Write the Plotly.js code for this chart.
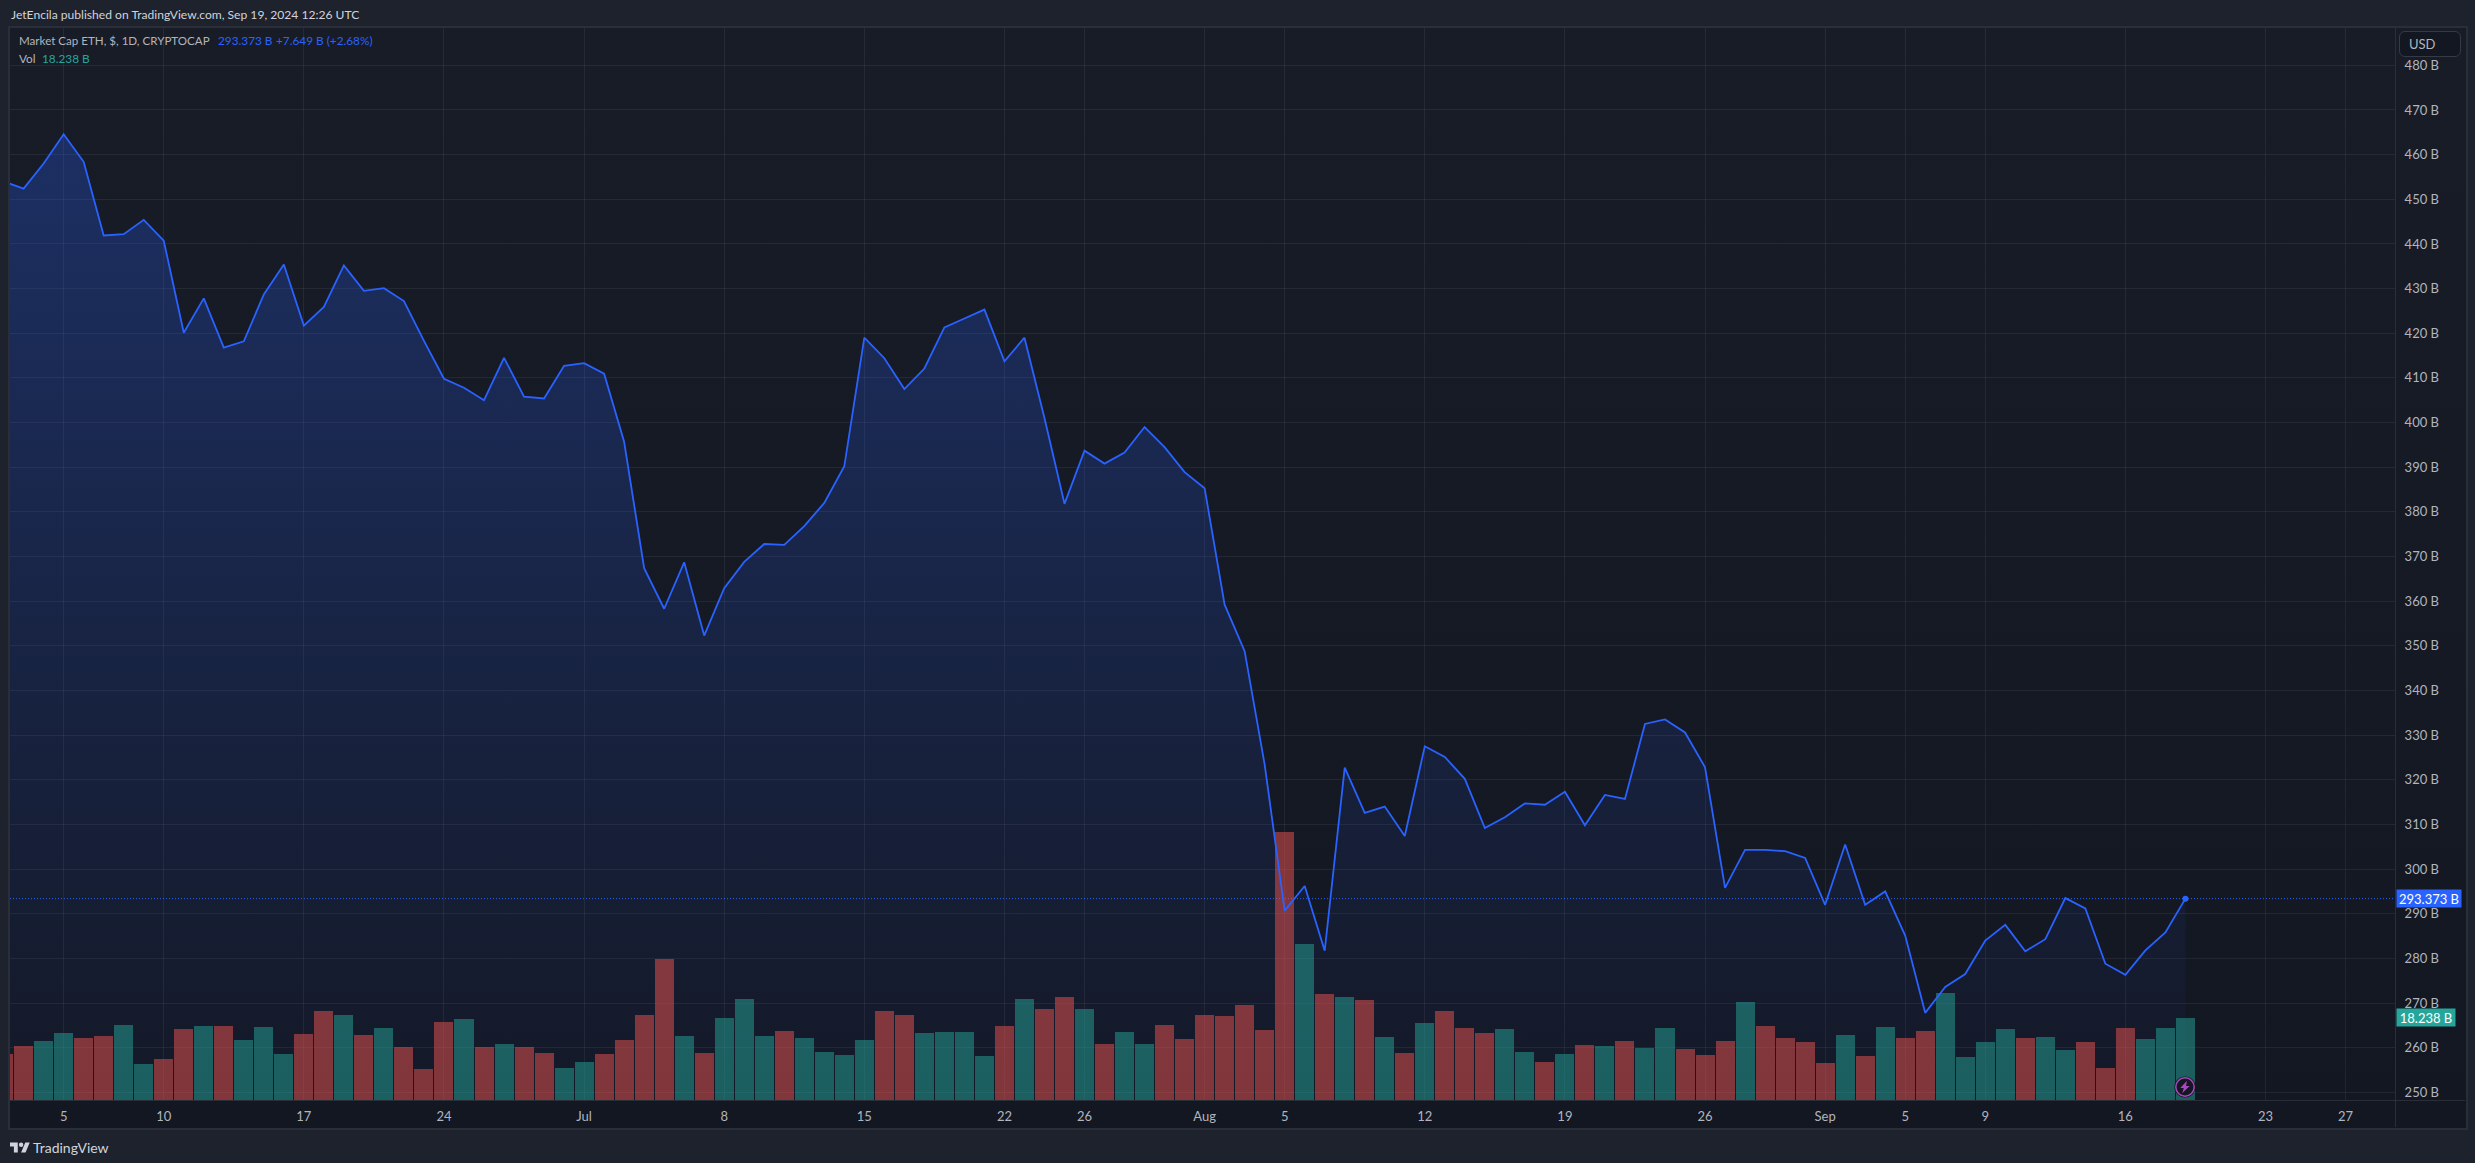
<!DOCTYPE html>
<html>
<head>
<meta charset="utf-8">
<script src="https://cdn.plot.ly/plotly-3.0.1.min.js"></script>
<style>
html,body{margin:0;padding:0;width:2475px;height:1163px;overflow:hidden;background:#1e222d;}
.abs{position:absolute;pointer-events:none;}
#pane{left:8px;top:26px;width:2456px;height:1100px;border:2px solid #2a2e39;background:linear-gradient(#181c27,#131722);}
#vsep{left:2395px;top:27px;width:1px;height:1100px;background:#2a2e39;z-index:3;}
#hsep{left:9px;top:1100px;width:2456px;height:1px;background:#2a2e39;z-index:3;}
#chart{position:absolute;left:0;top:0;width:2475px;height:1163px;z-index:2;}
#usd{left:2399px;top:31px;width:60px;height:24px;border:1px solid #363a45;border-radius:6px;background:#131722;color:#b2b5be;font:13px Lato,sans-serif;line-height:24px;text-indent:9px;z-index:4;}
#brand{left:33px;top:1139px;color:#d1d4dc;font:14px Lato,sans-serif;z-index:4;}
</style>
</head>
<body>
<div id="pane" class="abs"></div>
<div id="chart"></div>
<div id="vsep" class="abs"></div>
<div id="hsep" class="abs"></div>
<div id="usd" class="abs">USD</div>
<svg class="abs" style="left:10px;top:1140px;z-index:4" width="20" height="14" viewBox="0 0 36 24"><path fill="#d1d4dc" d="M14 22H7V11H0V4h14v18zM28 22h-8l7.5-18h8L28 22z"/><circle fill="#d1d4dc" cx="20" cy="8" r="4"/></svg>
<div id="brand" class="abs">TradingView</div>
<svg class="abs" style="left:2174px;top:1076px;z-index:4" width="22" height="22" viewBox="0 0 22 22"><circle cx="11" cy="11" r="10.6" fill="#131722"/><circle cx="11" cy="11" r="9.2" fill="none" stroke="#ab47bc" stroke-width="1.5"/><path fill="#ab47bc" d="M13 4.8 6.2 12h3.6l-1.6 5.2L15.6 10H12z"/></svg>
<script>
const startDay = "2024-06-02";

const price = [
 453.96,452.4,458.0,464.55,458.4,441.9,442.2,445.4,440.75,420.1,427.8,416.8,418.2,428.7,435.4,421.7,425.9,435.2,429.5,430.1,427.2,418.3,409.8,407.8,405.0,414.5,405.8,405.4,412.7,
 413.3,410.95,395.7,367.4,358.3,368.7,352.3,362.9,368.8,372.8,372.6,376.8,382.0,390.2,419.0,414.4,407.5,412.1,421.3,423.3,425.3,413.7,419.0,401.0,381.8,393.7,390.8,393.3,399.0,394.5,388.9,
 385.3,359.2,348.8,323.4,290.7,296.2,281.7,322.7,312.6,314.0,307.4,327.5,325.1,320.2,309.2,311.6,314.7,314.4,317.3,309.8,316.6,315.7,332.5,333.5,330.6,322.8,295.8,304.3,304.3,304.0,302.5,
 292.0,305.5,292.0,295.0,285.1,267.8,273.6,276.5,284.0,287.5,281.6,284.3,293.5,291.2,278.8,276.3,281.8,285.8,293.373
];
const volume = [
 10.2,12.0,13.1,14.9,13.8,14.2,16.7,8.0,9.1,15.8,16.5,16.5,13.3,16.2,10.2,14.7,19.8,18.9,14.5,16.0,11.8,6.9,17.3,18.0,11.8,12.5,11.8,10.5,7.1,
 8.5,10.2,13.3,18.9,31.4,14.2,10.5,18.2,22.5,14.2,15.3,13.8,10.7,10.0,13.3,19.8,18.9,14.9,15.1,15.1,9.8,16.5,22.5,20.2,22.9,20.2,12.5,15.1,12.5,16.7,13.6,
 18.9,18.7,21.1,15.6,59.6,34.7,23.6,22.9,22.2,14.0,10.5,17.1,19.8,16.0,14.9,15.8,10.7,8.5,10.2,12.2,12.0,13.1,11.6,16.0,11.3,10.0,13.1,21.8,16.5,13.8,12.9,
 8.2,14.5,9.8,16.2,13.8,15.3,23.8,9.6,12.9,15.8,13.8,14.0,11.1,12.9,7.1,16.0,13.6,16.0,18.238
];
const direction = (
 "d d u u d d u u d d u d u u u d d u d u d d d u d u d d u " +
 "u d d d d u d u u u d u u u u d d u u u u d u d d u d u u d d " +
 "d d d d d u d u d u d u d d d u u d u d u d u u d d d u d d d " +
 "d u d u d d u u u u d u u d d d u u u").trim().split(" ");

const xTickVals = ["2024-06-05","2024-06-10","2024-06-17","2024-06-24","2024-07-01","2024-07-08","2024-07-15","2024-07-22","2024-07-26","2024-08-01","2024-08-05","2024-08-12","2024-08-19","2024-08-26","2024-09-01","2024-09-05","2024-09-09","2024-09-16","2024-09-23","2024-09-27"];
const xTickText = ["5","10","17","24","Jul","8","15","22","26","Aug","5","12","19","26","Sep","5","9","16","23","27"];
const yTickVals = [250,260,270,280,290,300,310,320,330,340,350,360,370,380,390,400,410,420,430,440,450,460,470,480];
const yTickText = yTickVals.map(v => v + " B");

const headerText = "JetEncila published on TradingView.com, Sep 19, 2024 12:26 UTC";
const seriesName = "Market Cap ETH, $, 1D, CRYPTOCAP";
const priceLabel = "293.373 B";
const changeLabel = "+7.649 B (+2.68%)";
const volLabel = "18.238 B";

const BLUE = "#2962ff", TEAL = "#26a69a", GRID = "rgba(240,243,250,0.065)";
const UI = 'Lato,sans-serif';
const DAY = 86400000;
const dates = price.map((_, i) => new Date(Date.parse(startDay + "T00:00:00Z") + i * DAY).toISOString().slice(0, 10));
const last = price.length - 1;
const yRange = [248.28, 488.36];

const traces = [
 {type:"scatter", mode:"none", x:dates, y:price, xaxis:"x", yaxis:"y", fill:"tozeroy", hoverinfo:"skip",
  fillgradient:{type:"vertical", start:yRange[0], stop:Math.max(...price),
    colorscale:[[0,"rgba(41,98,255,0.02)"],[1,"rgba(41,98,255,0.28)"]]}},
 {type:"bar", x:dates, y:volume, xaxis:"x", yaxis:"y2", width:DAY*0.95,
  marker:{color:direction.map(d => d === "u" ? "rgba(38,166,154,0.5)" : "rgba(239,83,80,0.5)"), line:{width:0}}},
 {type:"scatter", mode:"lines", x:dates, y:price, xaxis:"x", yaxis:"y3",
  line:{color:BLUE, width:1.8}},
 {type:"scatter", mode:"markers", x:[dates[last]], y:[price[last]], xaxis:"x", yaxis:"y3",
  marker:{color:BLUE, size:6}}
];

const txt = (x, y, text, color, size) => ({xref:"paper", yref:"paper", x, y, xanchor:"left", yanchor:"middle",
  text, showarrow:false, font:{family:UI, size:size || 13, color}, borderpad:0, align:"left"});
const W = 2385.5, H = 1072;
const px = v => (v - 9.5) / W, py = v => (1100 - v) / H;

const layout = {
 width:2475, height:1163, autosize:false, showlegend:false, bargap:0,
 paper_bgcolor:"rgba(0,0,0,0)", plot_bgcolor:"rgba(0,0,0,0)",
 margin:{l:9.5, r:80, t:28, b:63, pad:0},
 xaxis:{type:"date", range:["2024-06-02 07:40","2024-09-29 11:17"], tickmode:"array", tickvals:xTickVals, ticktext:xTickText,
   showgrid:true, gridcolor:GRID, gridwidth:1, zeroline:false, showline:false,
   ticks:"outside", ticklen:4, tickcolor:"rgba(0,0,0,0)", tickfont:{family:UI, size:13, color:"#b2b5be"}},
 yaxis:{range:yRange, side:"right", tickmode:"array", tickvals:yTickVals, ticktext:yTickText,
   showgrid:true, gridcolor:GRID, gridwidth:1, zeroline:false, showline:false,
   ticks:"outside", ticklen:6, tickcolor:"rgba(0,0,0,0)", tickfont:{family:UI, size:13, color:"#b2b5be"}},
 yaxis2:{range:[0,238.2], overlaying:"y", side:"right", visible:false},
 yaxis3:{range:yRange, overlaying:"y", side:"right", visible:false},
 shapes:[{type:"line", xref:"paper", x0:0, x1:1, yref:"y", y0:price[last], y1:price[last], layer:"below",
   line:{color:BLUE, width:1, dash:"1px,2px"}}],
 annotations:[
  txt(px(10), py(14.5), headerText, "#d1d4dc", 12.1),
  txt(px(18), py(41), seriesName, "#b2b5be", 11.6),
  txt(px(217), py(41), priceLabel, BLUE, 11.8),
  txt(px(275), py(41), changeLabel, BLUE, 11.8),
  txt(px(18), py(59), "Vol", "#b2b5be", 11.8),
  txt(px(41), py(59), volLabel, TEAL, 11.8),
  {xref:"paper", x:1, xanchor:"left", yref:"y", y:price[last], yanchor:"middle", xshift:1, showarrow:false, text:priceLabel,
   bgcolor:BLUE, width:64, height:17, align:"center", borderpad:0, font:{family:UI, size:13, color:"#ffffff"}},
  {xref:"paper", x:1, xanchor:"left", yref:"y2", y:volume[last], yanchor:"middle", xshift:1, showarrow:false, text:volLabel,
   bgcolor:TEAL, width:58, height:17, align:"center", borderpad:0, font:{family:UI, size:13, color:"#ffffff"}}
 ]
};
Plotly.newPlot("chart", traces, layout, {staticPlot:true, displayModeBar:false, responsive:false});
</script>
</body>
</html>
